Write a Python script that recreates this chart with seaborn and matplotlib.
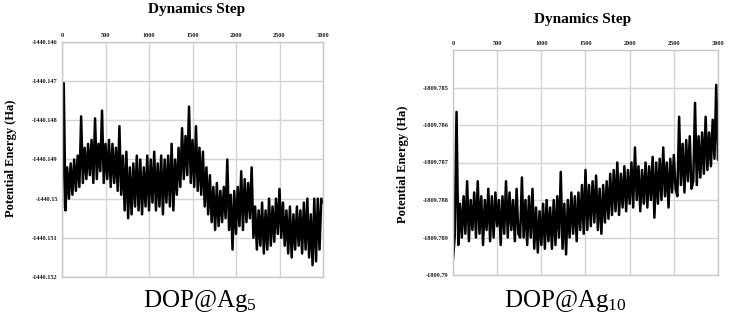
import numpy as np
import pandas as pd
import matplotlib
matplotlib.use("Agg")
import matplotlib.pyplot as plt
import seaborn as sns

# ---------------- data ----------------
steps = np.arange(0, 3001, 20)

energy_ag5 = [
    -1440.15024, -1440.14705, -1440.1503, -1440.1492, -1440.1500, -1440.1491, -1440.1499, -1440.1490, -1440.1498, -1440.1489,
    -1440.1497, -1440.1479, -1440.1496, -1440.1487, -1440.1495, -1440.1486, -1440.1494, -1440.1485, -1440.1496, -1440.14795,
    -1440.1495, -1440.1486, -1440.1493, -1440.14775, -1440.1496, -1440.1486, -1440.1495, -1440.1485, -1440.1497, -1440.1486,
    -1440.1496, -1440.1487, -1440.1498, -1440.14815, -1440.1499, -1440.1489, -1440.1503, -1440.1488, -1440.1505, -1440.1492,
    -1440.1504, -1440.1491, -1440.1502, -1440.1489, -1440.1503, -1440.1490, -1440.1504, -1440.1492, -1440.1502, -1440.1489,
    -1440.1503, -1440.1490, -1440.1501, -1440.1488, -1440.1503, -1440.1491, -1440.1502, -1440.1489, -1440.1504, -1440.1490,
    -1440.1501, -1440.1489, -1440.1502, -1440.1486, -1440.1503, -1440.1490, -1440.1499, -1440.1487, -1440.1497, -1440.1482,
    -1440.1495, -1440.1484, -1440.1494, -1440.14765, -1440.1496, -1440.1485, -1440.1497, -1440.14815, -1440.1498, -1440.1487,
    -1440.1499, -1440.1488, -1440.1502, -1440.1492, -1440.1504, -1440.1494, -1440.1506, -1440.1497, -1440.1508, -1440.1496,
    -1440.1507, -1440.1498, -1440.1506, -1440.1497, -1440.1505, -1440.1490, -1440.1508, -1440.1499, -1440.1513, -1440.1498,
    -1440.1509, -1440.1497, -1440.1507, -1440.1493, -1440.1508, -1440.1495, -1440.1506, -1440.1496, -1440.1505, -1440.1492,
    -1440.1510, -1440.1502, -1440.1513, -1440.1503, -1440.1512, -1440.1501, -1440.1514, -1440.1503, -1440.1513, -1440.1500,
    -1440.1512, -1440.1502, -1440.1511, -1440.1500, -1440.1509, -1440.14975, -1440.1510, -1440.1501, -1440.1512, -1440.1503,
    -1440.1514, -1440.1502, -1440.1515, -1440.1504, -1440.1513, -1440.1502, -1440.1512, -1440.1503, -1440.1514, -1440.1501,
    -1440.1513, -1440.1500, -1440.1515, -1440.1504, -1440.1517, -1440.1500, -1440.1516, -1440.1500, -1440.1513, -1440.1500,
    -1440.1501,
]

energy_ag10 = [
    -1809.78959, -1809.78897, -1809.78565, -1809.7892, -1809.7881, -1809.7890, -1809.7879, -1809.7889, -1809.7875, -1809.7891,
    -1809.7880, -1809.7888, -1809.7878, -1809.7890, -1809.7875, -1809.7889, -1809.7879, -1809.7892, -1809.7880, -1809.7888,
    -1809.7877, -1809.7891, -1809.7879, -1809.7890, -1809.7878, -1809.7887, -1809.7880, -1809.7892, -1809.7879, -1809.7889,
    -1809.7875, -1809.7890, -1809.7878, -1809.7888, -1809.7880, -1809.7891, -1809.7877, -1809.7889, -1809.7890, -1809.7874,
    -1809.7890, -1809.7880, -1809.7892, -1809.7879, -1809.7890, -1809.7877, -1809.7893, -1809.7882, -1809.7894, -1809.7883,
    -1809.7892, -1809.7881, -1809.7893, -1809.7880, -1809.7891, -1809.7882, -1809.7893, -1809.7880, -1809.7892, -1809.7879,
    -1809.7890, -1809.78725, -1809.7893, -1809.7881, -1809.78945, -1809.7880, -1809.7890, -1809.7878, -1809.7889, -1809.7879,
    -1809.7891, -1809.7878, -1809.7888, -1809.7876, -1809.7889, -1809.7872, -1809.7888, -1809.7876, -1809.7887, -1809.7875,
    -1809.7886, -1809.78735, -1809.7888, -1809.7877, -1809.7889, -1809.7876, -1809.7886, -1809.7875, -1809.7885, -1809.7873,
    -1809.7884, -1809.7872, -1809.7883, -1809.7870, -1809.7884, -1809.7873, -1809.7882, -1809.7871, -1809.7883, -1809.7872,
    -1809.7881, -1809.7870, -1809.7882, -1809.7866, -1809.7880, -1809.7871, -1809.7883, -1809.7872, -1809.7881, -1809.7870,
    -1809.7882, -1809.7871, -1809.7880, -1809.78685, -1809.78847, -1809.7870, -1809.7881, -1809.7869, -1809.7880, -1809.7866,
    -1809.7879, -1809.7870, -1809.7882, -1809.7869, -1809.7878, -1809.7868, -1809.7877, -1809.7879, -1809.78578, -1809.7876,
    -1809.7865, -1809.7878, -1809.7864, -1809.7875, -1809.7863, -1809.7877, -1809.7875, -1809.78541, -1809.7876, -1809.7863,
    -1809.7874, -1809.7862, -1809.7873, -1809.78578, -1809.7872, -1809.7862, -1809.7871, -1809.78586, -1809.7869, -1809.78493,
    -1809.78693,
]

x_ticks = [0, 500, 1000, 1500, 2000, 2500, 3000]
x_tick_labels = ["0", "500", "1000", "1500", "2000", "2500", "3000"]

y_ticks_ag5 = [-1440.146, -1440.147, -1440.148, -1440.149, -1440.150, -1440.151, -1440.152]
y_labels_ag5 = ["-1440.146", "-1440.147", "-1440.148", "-1440.149", "-1440.15", "-1440.151", "-1440.152"]
y_ticks_ag10 = [-1809.785, -1809.786, -1809.787, -1809.788, -1809.789, -1809.790]
y_labels_ag10 = ["-1809.785", "-1809.786", "-1809.787", "-1809.788", "-1809.789", "-1809.79"]

panel_names = ["DOP@Ag$_{5}$", "DOP@Ag$_{10}$"]

# ---------------- style ----------------
sns.set_theme(style="whitegrid")
plt.rcParams["font.family"] = ["Liberation Serif", "DejaVu Serif"]
plt.rcParams["mathtext.fontset"] = "custom"
plt.rcParams["mathtext.rm"] = "Liberation Serif"
plt.rcParams["mathtext.default"] = "regular"
plt.rcParams["text.color"] = "black"

fig = plt.figure(figsize=(7.29, 3.25), dpi=100)
W, H = 729, 325

def px_axes(x0, y0, x1, y1):
    return fig.add_axes([x0 / W, 1 - y1 / H, (x1 - x0) / W, (y1 - y0) / H])

ax1 = px_axes(62, 42, 323, 277)
ax2 = px_axes(453, 50, 718, 275)

df5 = pd.DataFrame({"step": steps, "energy": energy_ag5})
df10 = pd.DataFrame({"step": steps, "energy": energy_ag10})

for ax, df, yt, yl, ylim in [
    (ax1, df5, y_ticks_ag5, y_labels_ag5, (-1440.152, -1440.146)),
    (ax2, df10, y_ticks_ag10, y_labels_ag10, (-1809.790, -1809.784)),
]:
    sns.lineplot(data=df, x="step", y="energy", ax=ax, color="black",
                 linewidth=1.8, estimator=None, legend=False)
    ax.set_xlim(0, 3000)
    ax.set_ylim(*ylim)
    ax.set_xticks(x_ticks)
    ax.set_xticklabels(x_tick_labels, fontsize=4.5, fontweight="bold")
    ax.set_yticks(yt)
    ax.set_yticklabels(yl, fontsize=4.5, fontweight="bold")
    ax.xaxis.tick_top()
    ax.tick_params(axis="both", length=0, pad=3, colors="#1a1a1a")
    ax.grid(True, color="#d4d4d4", linewidth=1.0)
    ax.set_facecolor("white")
    for sp in ax.spines.values():
        sp.set_color("#c8c8c8")
        sp.set_linewidth(1.0)
    ax.set_xlabel("")
    ax.set_ylabel("")

# axis titles and labels
fig.text(197 / W, 1 - 9 / H, "Dynamics Step", ha="center", va="center",
         fontsize=11, fontweight="bold", color="black")
fig.text(583 / W, 1 - 19 / H, "Dynamics Step", ha="center", va="center",
         fontsize=11, fontweight="bold", color="black")
fig.text(11 / W, 1 - 158 / H, "Potential Energy (Ha)", ha="center", va="center",
         rotation=90, fontsize=9, fontweight="bold", color="black")
fig.text(403 / W, 1 - 164 / H, "Potential Energy (Ha)", ha="center", va="center",
         rotation=90, fontsize=9, fontweight="bold", color="black")

fig.text(200 / W, 1 - 301 / H, panel_names[0], ha="center", va="center",
         fontsize=18, color="black")
fig.text(565 / W, 1 - 301 / H, panel_names[1], ha="center", va="center",
         fontsize=18, color="black")

fig.savefig("out.png", dpi=100, facecolor="white")
